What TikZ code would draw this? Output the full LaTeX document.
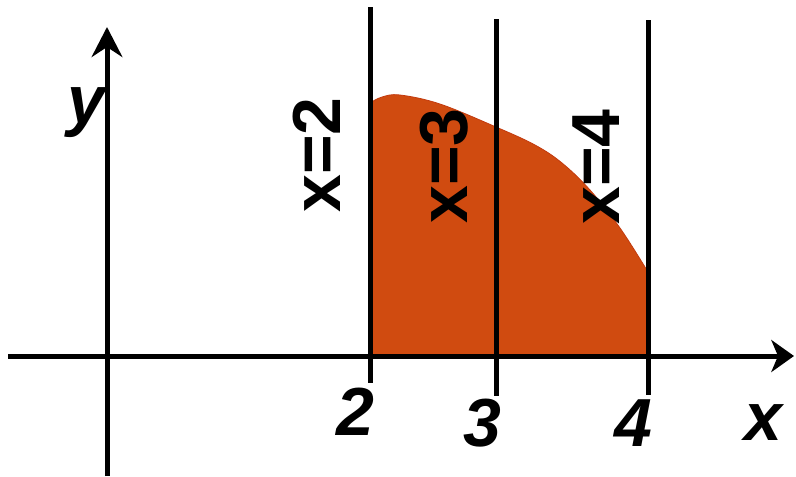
\documentclass[tikz,border=0pt]{standalone}
\usepackage{fontspec}
\setmainfont{Liberation Sans}
\usetikzlibrary{arrows.meta}
\definecolor{areaorange}{HTML}{D04B10}
\definecolor{areaedge}{HTML}{C23A0E}

\begin{document}
\begin{tikzpicture}[x=0.75pt, y=-0.75pt, line width=3.75pt,
    font=\fontsize{51}{51}\selectfont\bfseries]
  \useasboundingbox (0,0) rectangle (796,476);
  % area under the curve
  \fill[areaorange, draw=areaedge, line width=0.6pt]
    plot[smooth, tension=0.6] coordinates {(370,103) (382,97) (400,95) (440,104)
      (496,127) (535,145) (562,163) (590,190) (620,228) (648,272)}
    -- (648,358) -- (370,356) -- cycle;
  % axes
  \coordinate (xs) at (8,356);
  \coordinate (xe) at (794,356);
  \coordinate (ys) at (107,476);
  \coordinate (ye) at (107,27);
  \draw[-{Stealth[length=17pt, width=24pt, inset=5pt]}] (xs) -- (xe);
  \draw[-{Stealth[length=22.5pt, width=23pt, inset=7.5pt]}] (ys) -- (ye);
  \node[font=\fontsize{51}{51}\selectfont\bfseries\itshape, inner sep=0pt] (xl) at (763,423) {x};
  \node[font=\fontsize{51}{51}\selectfont\bfseries\itshape, inner sep=0pt] (yl) at (86,113) {y};
  % the lines x=2, x=3, x=4
  \foreach \n/\px/\top/\bot/\tx/\ty/\lx/\ly in {2/370/7/383/355/412/317/155,
      3/496/19/396/482/423/444/166, 4/648/20/395/633/423/596/167}{
    \coordinate (a\n) at (\px,\top);
    \coordinate (b\n) at (\px,\bot);
    \draw (a\n) -- (b\n);
    \node[font=\fontsize{51}{51}\selectfont\bfseries\itshape, inner sep=0pt] (t\n) at (\tx,\ty) {\n};
    \node[rotate=90, inner sep=0pt] (l\n) at (\lx,\ly) {x=\n};
  }
\end{tikzpicture}
\end{document}
